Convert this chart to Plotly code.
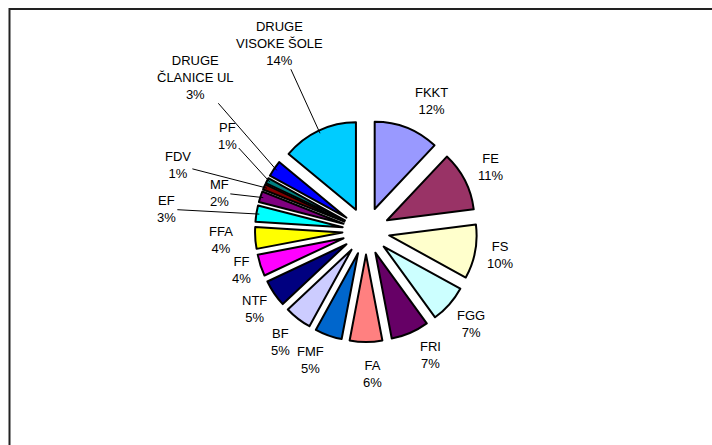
import math
import plotly.graph_objects as go

labels = ["FKKT", "FE", "FS", "FGG", "FRI", "FA", "FMF", "BF", "NTF", "FF",
          "FFA", "EF", "MF", "FDV", "PF", "DRUGE<br>ČLANICE UL", "DRUGE<br>VISOKE ŠOLE"]
values = [12, 11, 10, 7, 7, 6, 5, 5, 5, 4, 4, 3, 2, 1, 1, 3, 14]
colors = ["#9999FF", "#993366", "#FFFFCC", "#CCFFFF", "#660066", "#FF8080",
          "#0066CC", "#CCCCFF", "#000080", "#FF00FF", "#FFFF00", "#00FFFF",
          "#800080", "#800000", "#008080", "#0000FF", "#00CCFF"]

# label offsets (px) for labels drawn with leader lines (style only)
leader_offsets = {
    "EF": (-93, -5), "MF": (-44, -5), "FDV": (-89, -23), "PF": (-42, -46),
    "DRUGE<br>ČLANICE UL": (-81, -93), "DRUGE<br>VISOKE ŠOLE": (-41, -90),
}
# small label nudges (px) for labels without leader lines (style only)
label_nudges = {
    "FKKT": (14, 0), "FS": (-4, -2), "FRI": (9, -4), "FA": (6, 3),
    "FMF": (-8, -3), "NTF": (4, -1), "FF": (9, -4), "FFA": (-5, 0),
}

W, H = 712, 445
cx, cy, half = 366, 231, 111
PULL = 0.27
LABEL_R = 140
TIP_R = 108

fig = go.Figure(go.Pie(
    labels=labels, values=values, sort=False, direction="clockwise", rotation=0,
    pull=[PULL] * len(values),
    marker=dict(colors=colors, line=dict(color="black", width=2)),
    textinfo="none",
    domain=dict(x=[(cx - half) / W, (cx + half) / W],
                y=[(H - cy - half) / H, (H - cy + half) / H]),
    showlegend=False, hoverinfo="label+percent",
))

total = sum(values)
annotations = []
cum = 0
font = dict(family="Liberation Sans, Arial", size=13, color="black")
for lab, v in zip(labels, values):
    mid = (cum + v / 2) / total * 2 * math.pi
    cum += v
    dx, dy = math.sin(mid), -math.cos(mid)
    pct = f"{round(v / total * 100)}%"
    text = f"{lab}<br>{pct}"
    if lab in leader_offsets:
        ax, ay = leader_offsets[lab]
        px, py = cx + TIP_R * dx, cy + TIP_R * dy
        annotations.append(dict(
            x=px / W, y=1 - py / H, xref="paper", yref="paper",
            text=text, showarrow=True, arrowhead=0, arrowwidth=1,
            arrowcolor="black", ax=ax, ay=ay, font=font, align="center",
            xanchor="center", yanchor="middle",
            standoff=0, startstandoff=0))
    else:
        nx, ny = label_nudges.get(lab, (0, 0))
        px, py = cx + LABEL_R * dx + nx, cy + LABEL_R * dy + ny
        annotations.append(dict(
            x=px / W, y=1 - py / H, xref="paper", yref="paper",
            text=text, showarrow=False, font=font, align="center",
            xanchor="center", yanchor="middle"))

fig.update_layout(
    width=W, height=H, margin=dict(l=0, r=0, t=0, b=0),
    paper_bgcolor="white", plot_bgcolor="white",
    annotations=annotations,
    shapes=[
        dict(type="line", xref="paper", yref="paper",
             x0=9 / W, x1=1, y0=1 - 9 / H, y1=1 - 9 / H,
             line=dict(color="#222222", width=2)),
        dict(type="line", xref="paper", yref="paper",
             x0=9.5 / W, x1=9.5 / W, y0=0, y1=1 - 8 / H,
             line=dict(color="#222222", width=2)),
    ],
)
fig.write_html("out.html", config={"displayModeBar": False},
               post_script="document.body.style.margin='0';"
                           "document.body.style.overflow='hidden';")
